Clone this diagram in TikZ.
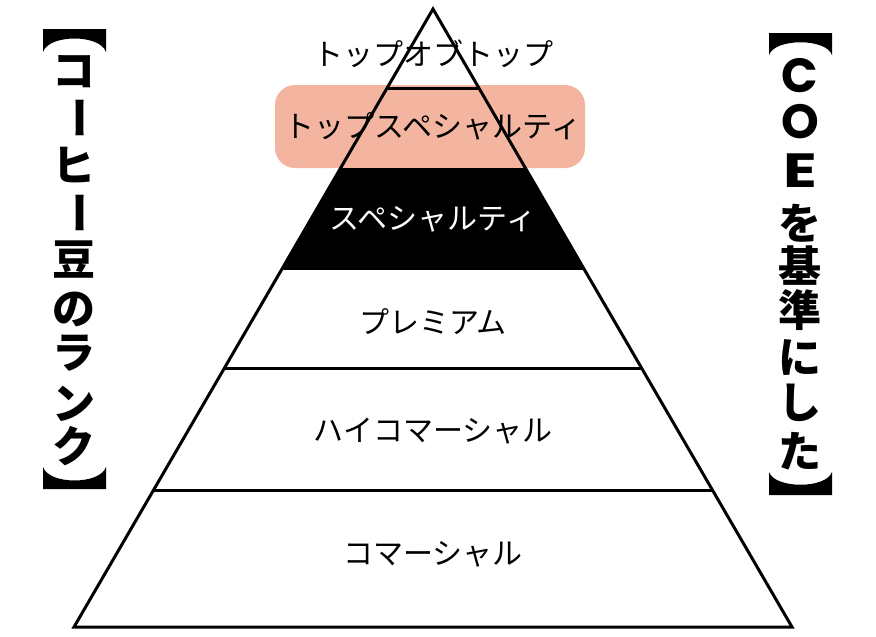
\documentclass[tikz,border=0pt]{standalone}
\usepackage{fontspec}
\newfontfamily\jp{Noto Sans CJK JP}
\newfontfamily\pop{Poppins}
\definecolor{salmon}{RGB}{243,180,160}
\begin{document}
\begin{tikzpicture}[x=1pt,y=-1pt,
  lab/.style={font=\jp\fontsize{30}{36}\selectfont, inner sep=0pt},
  side/.style={font=\jp\bfseries\fontsize{43}{46}\selectfont, inner sep=0pt},
  latin/.style={font=\pop\bfseries\fontsize{48}{52}\selectfont, inner sep=0pt},
  rim/.style={line width=3pt, line join=miter},
  bar/.style={line width=3pt}]
\fill[white] (0,0) rectangle (876,637);
\useasboundingbox (0,0) rectangle (876,637);
\coordinate (A) at (433,9);
\coordinate (BL) at (74,627);
\coordinate (BR) at (792,627);
% highlight band
\fill[salmon, rounded corners=20pt] (275,85) rectangle (585,168);
\begin{scope}
  \clip (A) -- (BL) -- (BR) -- cycle;
  \fill[black] (0,168) rectangle (876,270);
  \draw[bar] (0,88) -- (876,88);
  \draw[bar] (0,368) -- (876,368);
  \draw[bar] (0,490) -- (876,490);
\end{scope}
\draw[rim] (A) -- (BL) -- (BR) -- cycle;
% level labels
\node[lab] (t1) at (433,54) {トップオブトップ};
\node[lab] (t2) at (433,126) {トップスペシャルティ};
\node[lab, text=white] (t3) at (433,219) {スペシャルティ};
\node[lab] (t4) at (433,322) {プレミアム};
\node[lab] (t5) at (433,431) {ハイコマーシャル};
\node[lab] (t6) at (433,554) {コマーシャル};
% left vertical title
\fill (43,29) -- (106,29) -- (106,52) .. controls (100,34) and (49,34) .. (43,52) -- cycle;
\fill (43,489) -- (106,489) -- (106,467) .. controls (100,485) and (49,485) .. (43,467) -- cycle;
\node[side] (l1) at (74,72) {コ};
\node[side, rotate=-90] (l2) at (74,117.5) {ー};
\node[side] (l3) at (74,165) {ヒ};
\node[side, rotate=-90] (l4) at (74,212.5) {ー};
\node[side] (l5) at (74,260) {豆};
\node[side] (l6) at (74,309) {の};
\node[side] (l7) at (74,353) {ラ};
\node[side] (l8) at (74,404) {ン};
\node[side] (l9) at (74,446) {ク};
% right vertical title
\fill (769,33) -- (832,33) -- (832,55) .. controls (826,38) and (775,38) .. (769,55) -- cycle;
\fill (769,495) -- (832,495) -- (832,472) .. controls (826,489) and (775,489) .. (769,472) -- cycle;
\node[latin] (r1) at (800,76) {C};
\node[latin] (r2) at (800,122) {O};
\node[latin, xscale=1.3] (r3) at (800,171) {E};
\node[side] (r4) at (800,223) {を};
\node[side] (r5) at (800,266) {基};
\node[side] (r6) at (800,310) {準};
\node[side] (r7) at (800,357.5) {に};
\node[side] (r8) at (800,403) {し};
\node[side] (r9) at (800,451.5) {た};
\end{tikzpicture}
\end{document}
